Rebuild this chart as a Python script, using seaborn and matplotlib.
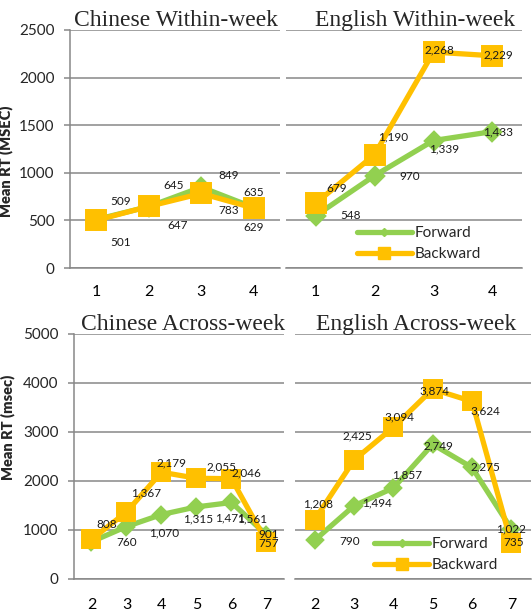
# -*- coding: utf-8 -*-

import matplotlib
matplotlib.use('Agg')
import matplotlib.pyplot as plt
from matplotlib.lines import Line2D
import seaborn as sns
import numpy as np

################################################################################
# data (mean RT in msec)

within_weeks = ['1', '2', '3', '4']
across_weeks = ['2', '3', '4', '5', '6', '7']

cn_within_fwd = [509, 645, 849, 635]
cn_within_bwd = [501, 647, 783, 629]
en_within_fwd = [548, 970, 1339, 1433]
en_within_bwd = [679, 1190, 2268, 2229]

cn_across_fwd = [760, 1070, 1315, 1471, 1561, 901]
cn_across_bwd = [808, 1367, 2179, 2055, 2046, 757]
en_across_fwd = [790, 1494, 1857, 2749, 2275, 1022]
en_across_bwd = [1208, 2425, 3094, 3874, 3624, 735]

series_names = ['Forward', 'Backward']

# data label offsets in pixels (dx, dy), purely cosmetic
cn_within_off = ([(24, 18), (25, 21), (27, 12), (0, 15)],
                 [(24, -22), (29, -19), (27, -17), (0, -19)])
en_within_off = ([(35, 0), (35, -1), (11, -8), (6, 0)],
                 [(21, 15), (19, 18), (6, 2), (6, 1)])
cn_across_off = ([(35, -1), (38, -6), (37, -4), (34, -11), (21, -16), (2, 0)],
                 [(15, 15), (20, 19), (10, 9), (25, 11), (15, 6), (2, -2)])
en_across_off = ([(35, -1), (23, 3), (14, 13), (6, -2), (13, 1), (0, 0)],
                 [(3, 16), (3, 24), (6, 10), (2, -2), (13, -10), (2, 0)])

################################################################################

GREEN = '#92D050'
ORANGE = '#FFC000'
GRID = '#878787'
LABEL = '#1a1a1a'

sns.set_style('white')
plt.rcParams['font.family'] = ['Lato', 'DejaVu Sans']


def draw_panel(ax, weeks, fwd, bwd, offsets, title, title_x, ymax, ystep,
               ylabel=None, ylabel_pos=None, sq=11, xpad=13, legend_at=None):
	sns.pointplot(x=weeks, y=fwd, ax=ax, color=GREEN, markers='D', markersize=sq * 0.64,
	              linewidth=3.8, errorbar=None)
	sns.pointplot(x=weeks, y=bwd, ax=ax, color=ORANGE, markers='s', markersize=sq,
	              linewidth=3.8, errorbar=None)

	for vals, offs in zip((fwd, bwd), offsets):
		for i, (v, (dx, dy)) in enumerate(zip(vals, offs)):
			ax.annotate('{:,}'.format(v), (i, v), xytext=(dx, dy), textcoords='offset pixels',
			            ha='center', va='center', fontsize=8.5, color=LABEL, zorder=5)

	n = len(weeks)
	ax.set_xlim(-0.5, n - 0.5)
	ax.set_ylim(0, ymax)
	ax.set_yticks(np.arange(0, ymax + 1, ystep))
	ax.set_xticks(np.arange(-0.5, n, 1), minor=True)
	ax.yaxis.grid(True, color=GRID, linewidth=1.1)
	ax.xaxis.grid(False)
	ax.set_axisbelow(True)
	ax.set_xlabel('')

	for s in ('top', 'right'):
		ax.spines[s].set_visible(False)
	ax.spines['bottom'].set_color(GRID)
	ax.spines['bottom'].set_linewidth(1.1)
	ax.tick_params(axis='x', which='major', length=0, pad=xpad, labelsize=11.5, labelcolor='black')
	ax.tick_params(axis='x', which='minor', length=5, width=1.1, color=GRID, direction='out')

	if ylabel:
		ax.spines['left'].set_color(GRID)
		ax.spines['left'].set_linewidth(1.1)
		ax.tick_params(axis='y', length=4, width=1.1, color=GRID, pad=7, labelsize=11,
		               left=True, direction='out')
		ax.set_ylabel(ylabel, fontsize=10.5, fontweight='heavy')
		ax.yaxis.set_label_coords(*ylabel_pos)
	else:
		ax.spines['left'].set_visible(False)
		ax.tick_params(axis='y', length=0, labelleft=False)
		ax.set_ylabel('')

	ax.set_title(title, x=title_x, pad=3, fontsize=17, family='Liberation Serif')

	if legend_at:
		handles = [Line2D([], [], color=GREEN, lw=3.8, marker='D', ms=4),
		           Line2D([], [], color=ORANGE, lw=3.8, marker='s', ms=8)]
		ax.legend(handles, series_names, loc='upper left', bbox_to_anchor=legend_at,
		          frameon=False, fontsize=11, handlelength=3.6, handletextpad=0.2,
		          borderpad=0, borderaxespad=0, labelspacing=0.45)


fig = plt.figure(figsize=(5.32, 6.13), dpi=100)
ax1 = fig.add_axes([0.1316, 0.5628, 0.3947, 0.3883])
ax2 = fig.add_axes([0.5376, 0.5628, 0.4436, 0.3883])
ax3 = fig.add_axes([0.1391, 0.0555, 0.3947, 0.3997])
ax4 = fig.add_axes([0.5545, 0.0555, 0.4436, 0.3997])

draw_panel(ax1, within_weeks, cn_within_fwd, cn_within_bwd, cn_within_off,
           'Chinese Within-week', 0.505, 2500, 500,
           ylabel='Mean RT (MSEC)', ylabel_pos=(-0.27, 0.45), sq=12.5, xpad=12)
draw_panel(ax2, within_weeks, en_within_fwd, en_within_bwd, en_within_off,
           'English Within-week', 0.547, 2500, 500, sq=12.5, xpad=12,
           legend_at=(0.30, 0.175))
draw_panel(ax3, across_weeks, cn_across_fwd, cn_across_bwd, cn_across_off,
           'Chinese Across-week', 0.52, 5000, 1000,
           ylabel='Mean RT (msec)', ylabel_pos=(-0.28, 0.62), sq=11, xpad=14)
draw_panel(ax4, across_weeks, en_across_fwd, en_across_bwd, en_across_off,
           'English Across-week', 0.513, 5000, 1000, sq=11, xpad=14,
           legend_at=(0.335, 0.17))

fig.savefig('out.png', dpi=100)
